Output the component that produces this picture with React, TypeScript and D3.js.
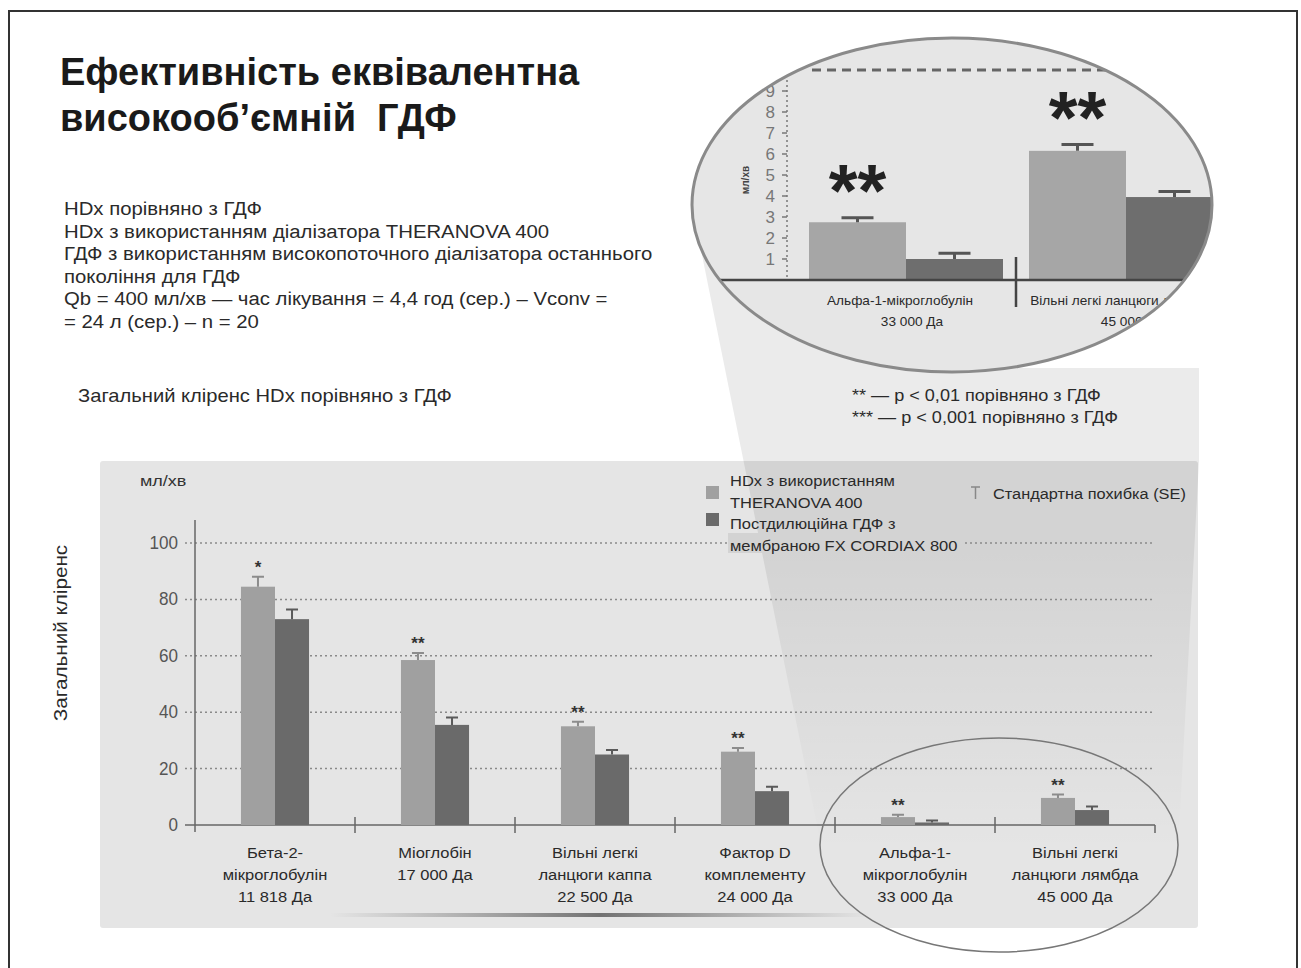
import React from "react";
import * as d3 from "d3";

// main chart data
const categories = [
  ["Бета-2-", "мікроглобулін", "11 818 Да"],
  ["Міоглобін", "17 000 Да"],
  ["Вільні легкі", "ланцюги каппа", "22 500 Да"],
  ["Фактор D", "комплементу", "24 000 Да"],
  ["Альфа-1-", "мікроглобулін", "33 000 Да"],
  ["Вільні легкі", "ланцюги лямбда", "45 000 Да"],
];
const hdxValues = [84.5, 58.5, 35, 26, 2.8, 9.6];
const hdxErrors = [3.5, 2.5, 1.6, 1.3, 0.8, 1.2];
const hdfValues = [73, 35.5, 25, 12, 0.9, 5.3];
const hdfErrors = [3.4, 2.6, 1.6, 1.6, 0.7, 1.3];
const stars = ["*", "**", "**", "**", "**", "**"];
const yTicks = [0, 20, 40, 60, 80, 100];

// zoomed inset data
const insetCategories = [
  ["Альфа-1-мікроглобулін", "33 000 Да"],
  ["Вільні легкі ланцюги лямбда", "45 000 Да"],
];
const insetHdx = [2.75, 6.15];
const insetHdxErr = [0.22, 0.3];
const insetHdf = [1.0, 3.95];
const insetHdfErr = [0.27, 0.27];
const insetTicks = [1, 2, 3, 4, 5, 6, 7, 8, 9];

const legendItems = [
  ["HDx з використанням", "THERANOVA 400"],
  ["Постдилюційна ГДФ з", "мембраною FX CORDIAX 800"],
];
const infoLines = [
  "HDx порівняно з ГДФ",
  "HDx з використанням діалізатора THERANOVA 400",
  "ГДФ з використанням високопоточного діалізатора останнього",
  "покоління для ГДФ",
  "Qb = 400 мл/хв — час лікування = 4,4 год (сер.) – Vconv =",
  "= 24 л (сер.) – n = 20",
];
const footnotes = ["** — p < 0,01 порівняно з ГДФ", "*** — p < 0,001 порівняно з ГДФ"];

const FONT = "'Liberation Sans', Arial, sans-serif";
const LIGHT = "#a0a0a0";
const DARK = "#6a6a6a";

// text stretched horizontally (the slide's font is wider than Arial)
function SText(props: {
  x: number; y: number; s?: number; size: number; anchor?: string; rotate?: number;
  fill?: string; weight?: string; children: React.ReactNode; pre?: boolean;
}) {
  const { x, y, s = 1, size, anchor = "start", rotate = 0, fill = "#2a2a2a", weight = "normal", children, pre } = props;
  return (
    <text
      transform={`translate(${x},${y}) rotate(${rotate}) scale(${s},1)`}
      textAnchor={anchor}
      fontSize={size}
      fontWeight={weight}
      fill={fill}
      style={pre ? { whiteSpace: "pre" } : undefined}
    >
      {children}
    </text>
  );
}

export default function App() {
  const W = 1301;
  const H = 968;

  // main scales
  const x = d3.scaleBand<number>().domain(d3.range(categories.length)).range([195, 1155]);
  const inner = d3.scaleBand<string>().domain(["hdx", "hdf"]).range([0, x.bandwidth()]).paddingOuter(1.35);
  const y = d3.scaleLinear().domain([0, 100]).range([825, 543]);

  // inset scales
  const xi = d3.scaleBand<number>().domain([0, 1]).range([796, 1236]);
  const innerI = d3.scaleBand<string>().domain(["hdx", "hdf"]).range([0, xi.bandwidth()]).paddingOuter(0.134);
  const yi = d3.scaleLinear().domain([0, 10]).range([280, 70]);

  const big = { cx: 952, cy: 205, rx: 260, ry: 167 };
  const small = { cx: 999, cy: 845, rx: 179, ry: 107 };

  const funnel = d3.line()([
    [700, 245],
    [960, 368],
    [1199, 368],
    [1199, 461],
    [1178, 850],
    [822, 850],
  ]) + "Z";

  return (
    <svg width={W} height={H} style={{ position: "absolute", left: 0, top: 0 }} fontFamily={FONT}>
      <defs>
        <clipPath id="bigClip">
          <ellipse cx={big.cx} cy={big.cy} rx={big.rx} ry={big.ry} />
        </clipPath>
        <linearGradient id="funnelGrad" x1="0" y1="0" x2="0" y2="1">
          <stop offset="0" stopColor="#000" stopOpacity={0.08} />
          <stop offset="0.5" stopColor="#000" stopOpacity={0.08} />
          <stop offset="1" stopColor="#000" stopOpacity={0.0} />
        </linearGradient>
        <linearGradient id="shadowGrad" x1="0" y1="0" x2="1" y2="0">
          <stop offset="0" stopColor="#666" stopOpacity={0} />
          <stop offset="0.5" stopColor="#555" stopOpacity={0.8} />
          <stop offset="1" stopColor="#666" stopOpacity={0} />
        </linearGradient>
      </defs>
      <rect width={W} height={H} fill="#fff" />
      {/* frame */}
      <path d={`M9,${H} V11 H1297 V${H}`} fill="none" stroke="#333" strokeWidth={2} />

      {/* chart panel */}
      <rect x={100} y={461} width={1098} height={467} rx={3} fill="#e5e5e5" />
      <path d={funnel} fill="url(#funnelGrad)" />
      <rect x={330} y={913} width={540} height={4} fill="url(#shadowGrad)" />

      {/* title */}
      <text x={60} y={85} fontSize={38} fontWeight="bold" fill="#1a1a1a">Ефективність еквівалентна</text>
      <text x={60} y={131} fontSize={38} fontWeight="bold" fill="#1a1a1a" style={{ whiteSpace: "pre" }}>високооб’ємній  ГДФ</text>

      {infoLines.map((t, i) => (
        <SText key={i} x={64} y={215 + i * 22.5} s={1.13} size={18}>{t}</SText>
      ))}
      <SText x={78} y={402} s={1.12} size={18}>Загальний кліренс HDx порівняно з ГДФ</SText>
      {footnotes.map((t, i) => (
        <SText key={i} x={852} y={401 + i * 22} s={1.13} size={16}>{t}</SText>
      ))}

      {/* gridlines */}
      {yTicks.filter((t) => t > 0).map((t) => (
        <line key={t} x1={185} x2={1155} y1={y(t)} y2={y(t)} stroke="#8a8a8a" strokeWidth={1.5} strokeDasharray="2 3" />
      ))}
      {yTicks.map((t) => (
        <SText key={t} x={178} y={y(t) + 6} s={0.95} anchor="end" size={18} fill="#555">{t}</SText>
      ))}
      <line x1={195} x2={195} y1={520} y2={832} stroke="#666" strokeWidth={1.5} />
      <line x1={185} x2={1155} y1={y(0)} y2={y(0)} stroke="#666" strokeWidth={1.5} />
      {d3.range(categories.length + 1).slice(1).map((i) => {
        const xx = i === categories.length ? 1155 : (x(i) as number);
        return <line key={i} x1={xx} x2={xx} y1={i === categories.length ? y(0) : 817} y2={833} stroke="#666" strokeWidth={1.5} />;
      })}
      <SText x={140} y={486} s={1.2} size={15} fill="#333">мл/хв</SText>
      <SText x={67} y={633} rotate={-90} s={1.15} anchor="middle" size={18}>Загальний кліренс</SText>

      {/* bars */}
      {categories.map((c, i) => {
        const x0 = x(i) as number;
        const bw = inner.bandwidth();
        const xl = x0 + (inner("hdx") as number);
        const xd = x0 + (inner("hdf") as number);
        return (
          <g key={i}>
            <rect x={xl} y={y(hdxValues[i])} width={bw} height={y(0) - y(hdxValues[i])} fill={LIGHT} />
            <rect x={xd} y={y(hdfValues[i])} width={bw} height={y(0) - y(hdfValues[i])} fill={DARK} />
            <path d={`M${xl + bw / 2},${y(hdxValues[i])}V${y(hdxValues[i] + hdxErrors[i])}M${xl + bw / 2 - 6},${y(hdxValues[i] + hdxErrors[i])}h12`} stroke="#8c8c8c" strokeWidth={2} />
            <path d={`M${xd + bw / 2},${y(hdfValues[i])}V${y(hdfValues[i] + hdfErrors[i])}M${xd + bw / 2 - 6},${y(hdfValues[i] + hdfErrors[i])}h12`} stroke="#5a5a5a" strokeWidth={2} />
            <text x={xl + bw / 2} y={y(hdxValues[i] + hdxErrors[i]) - 4} textAnchor="middle" fontSize={17} fontWeight="bold" fill="#333">{stars[i]}</text>
            {c.map((l, j) => (
              <SText key={j} x={x0 + x.bandwidth() / 2} y={858 + j * 22} s={1.1} anchor="middle" size={15}>{l}</SText>
            ))}
          </g>
        );
      })}

      {/* legend */}
      <rect x={728} y={533} width={234} height={20} fill="#d3d3d3" />
      {legendItems.map((l, i) => (
        <g key={i}>
          <rect x={706} y={486 + i * 27} width={13} height={13} fill={i === 0 ? LIGHT : DARK} />
          <SText x={730} y={486 + i * 43} s={1.1} size={15}>{l[0]}</SText>
          <SText x={730} y={508 + i * 43} s={1.1} size={15}>{l[1]}</SText>
        </g>
      ))}
      <path d="M971,487h9M975.5,487v12" stroke="#888" strokeWidth={1.5} fill="none" />
      <SText x={993} y={499} s={1.09} size={15}>Стандартна похибка (SE)</SText>

      {/* small ellipse */}
      <ellipse cx={small.cx} cy={small.cy} rx={small.rx} ry={small.ry} fill="none" stroke="#777" strokeWidth={1.5} />

      {/* inset */}
      <ellipse cx={big.cx} cy={big.cy} rx={big.rx} ry={big.ry} fill="#e6e6e6" />
      <g clipPath="url(#bigClip)">
        <line x1={812} x2={1138} y1={yi(10)} y2={yi(10)} stroke="#666" strokeWidth={3} strokeDasharray="9 6" />
        <line x1={787} x2={787} y1={80} y2={yi(0)} stroke="#777" strokeWidth={1.5} strokeDasharray="2 3" />
        {insetTicks.map((t) => (
          <g key={t}>
            <line x1={782} x2={787} y1={yi(t)} y2={yi(t)} stroke="#777" strokeWidth={1.5} />
            <text x={775} y={yi(t) + 6} textAnchor="end" fontSize={17} fill="#777">{t}</text>
          </g>
        ))}
        <text transform="translate(749,180) rotate(-90)" textAnchor="middle" fontSize={10} fontWeight="bold" fill="#444">мл/хв</text>
        {insetCategories.map((c, i) => {
          const x0 = xi(i) as number;
          const bw = innerI.bandwidth();
          const xl = x0 + (innerI("hdx") as number);
          const xd = x0 + (innerI("hdf") as number);
          return (
            <g key={i}>
              <rect x={xl} y={yi(insetHdx[i])} width={bw} height={yi(0) - yi(insetHdx[i])} fill="#a6a6a6" />
              <rect x={xd} y={yi(insetHdf[i])} width={bw} height={yi(0) - yi(insetHdf[i])} fill="#6e6e6e" />
              <path d={`M${xl + bw / 2},${yi(insetHdx[i])}V${yi(insetHdx[i] + insetHdxErr[i])}M${xl + bw / 2 - 16},${yi(insetHdx[i] + insetHdxErr[i])}h32`} stroke="#555" strokeWidth={3} />
              <path d={`M${xd + bw / 2},${yi(insetHdf[i])}V${yi(insetHdf[i] + insetHdfErr[i])}M${xd + bw / 2 - 16},${yi(insetHdf[i] + insetHdfErr[i])}h32`} stroke="#555" strokeWidth={3} />
              <text x={xl + bw / 2} y={yi(insetHdx[i] + insetHdxErr[i]) - 2} textAnchor="middle" fontSize={74} fontWeight="bold" fill="#222">**</text>
              <SText x={x0 + xi.bandwidth() / 2 - 6} y={305} s={1.05} anchor="middle" size={13}>{c[0]}</SText>
              <SText x={x0 + xi.bandwidth() / 2 + 6} y={326} s={1.05} anchor="middle" size={13}>{c[1]}</SText>
            </g>
          );
        })}
        <line x1={680} x2={1230} y1={yi(0)} y2={yi(0)} stroke="#444" strokeWidth={2.5} />
        <line x1={xi(1) as number} x2={xi(1) as number} y1={257} y2={307} stroke="#444" strokeWidth={2.5} />
      </g>
      <ellipse cx={big.cx} cy={big.cy} rx={big.rx} ry={big.ry} fill="none" stroke="#8a8a8a" strokeWidth={3} />
    </svg>
  );
}
